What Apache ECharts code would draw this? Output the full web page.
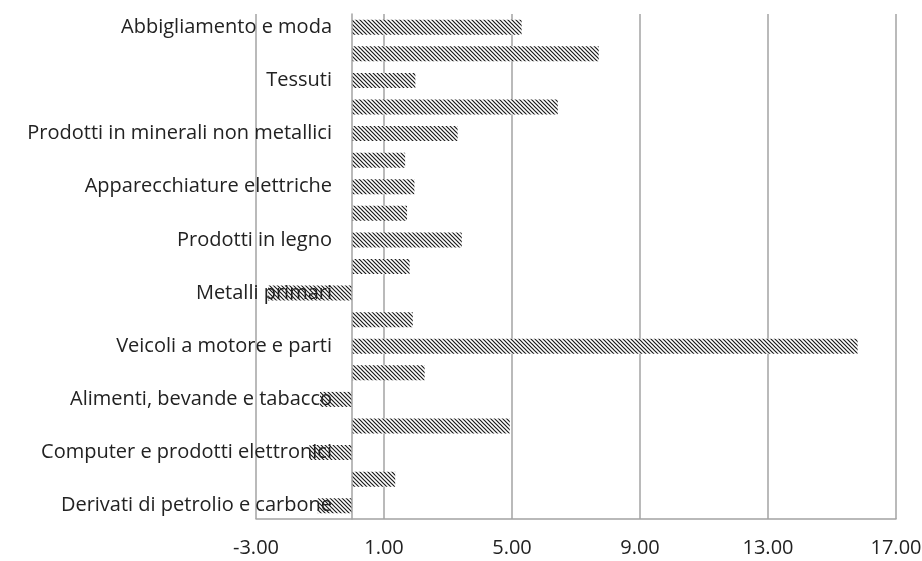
<!DOCTYPE html>
<html>
<head>
<meta charset="utf-8">
<script src="https://cdn.jsdelivr.net/npm/echarts@6/dist/echarts.min.js"></script>
<style>
  html, body { margin: 0; padding: 0; background: #fff; }
  #chart { width: 922px; height: 561px; }
</style>
</head>
<body>
<div id="chart"></div>
<script>
// categories top to bottom; only every other bar has a visible name
const categories = [
  'Abbigliamento e moda', '',
  'Tessuti', '',
  'Prodotti in minerali non metallici', '',
  'Apparecchiature elettriche', '',
  'Prodotti in legno', '',
  'Metalli primari', '',
  'Veicoli a motore e parti', '',
  'Alimenti, bevande e tabacco', '',
  'Computer e prodotti elettronici', '',
  'Derivati di petrolio e carbone',
]
const values = [
  5.30, 7.71,
  1.98, 6.43,
  3.30, 1.66,
  1.95, 1.72,
  3.43, 1.80,
  -2.62, 1.90,
  15.80, 2.27,
  -1.00, 4.93,
  -1.33, 1.35,
  -1.07,
]
const xMin = -3
const xMax = 17
const xStep = 4

// diagonal hatch like the office "dark downward diagonal" fill
function hatch() {
  const c = document.createElement('canvas')
  c.width = 4
  c.height = 4
  const g = c.getContext('2d')
  g.fillStyle = '#fff'
  g.fillRect(0, 0, 4, 4)
  g.strokeStyle = '#1a1a1a'
  g.lineWidth = 1.2
  g.beginPath()
  g.moveTo(-1, -1); g.lineTo(5, 5)
  g.moveTo(-1, 3); g.lineTo(1, 5)
  g.moveTo(3, -1); g.lineTo(5, 1)
  g.stroke()
  return c
}

const gray = '#a3a3a3'
const font = '"Open Sans", sans-serif'

const chart = echarts.init(document.getElementById('chart'))
chart.setOption({
  animation: false,
  grid: { left: 256, right: 26, top: 14, bottom: 42, outerBoundsMode: 'none' },
  xAxis: {
    type: 'value',
    min: xMin,
    max: xMax,
    interval: xStep,
    axisLine: { show: true, lineStyle: { color: gray, width: 1.5 } },
    axisTick: { show: false },
    splitLine: { show: true, showMinLine: true, lineStyle: { color: gray, width: 1.5 } },
    axisLabel: {
      color: '#222',
      fontFamily: font,
      fontSize: 20,
      margin: 19,
      formatter: v => v.toFixed(2),
    },
  },
  yAxis: {
    type: 'category',
    inverse: true,
    data: categories,
    z: 3,
    axisLine: { show: true, onZero: true, lineStyle: { color: gray, width: 1.5 } },
    axisTick: { show: false },
    axisLabel: {
      interval: 0,
      color: '#222',
      fontFamily: font,
      fontSize: 20,
      // labels sit next to the zero line, not the grid edge
      margin: -76,
    },
  },
  series: [
    {
      type: 'bar',
      data: values,
      barWidth: 15,
      itemStyle: { color: { image: hatch(), repeat: 'repeat' } },
    },
  ],
})
</script>
</body>
</html>
